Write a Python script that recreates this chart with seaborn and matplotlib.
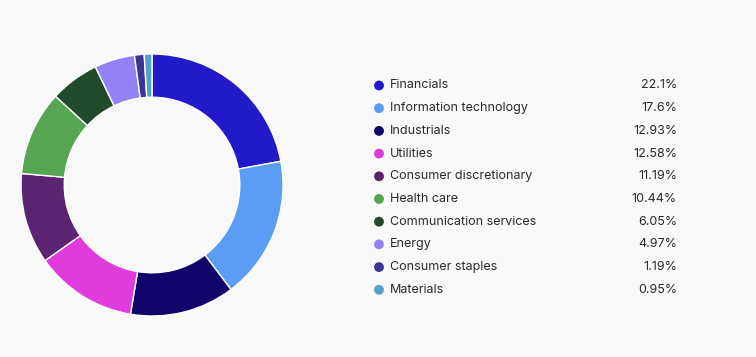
import pandas as pd
import matplotlib.pyplot as plt
import seaborn as sns

sectors = ['Financials', 'Information technology', 'Industrials', 'Utilities',
           'Consumer discretionary', 'Health care', 'Communication services',
           'Energy', 'Consumer staples', 'Materials']
weights = [22.1, 17.6, 12.93, 12.58, 11.19, 10.44, 6.05, 4.97, 1.19, 0.95]
labels = ['22.1%', '17.6%', '12.93%', '12.58%', '11.19%', '10.44%',
          '6.05%', '4.97%', '1.19%', '0.95%']
colors = ['#2219c9', '#5b9cf4', '#0f056b', '#e03bdc', '#5c2370',
          '#55a552', '#214c2c', '#9381f7', '#3b3597', '#56a0c3']

bg = '#f9f9fa'
sns.set_theme(style='white')
plt.rcParams['font.family'] = ['Inter', 'DejaVu Sans']

df = pd.DataFrame({'sector': sectors, 'weight': weights, 'label': labels})
df['row'] = range(len(df))

W, H = 756, 357
fig = plt.figure(figsize=(W / 100, H / 100), dpi=100, facecolor=bg)

# donut
cx, cy, r = 152, 185, 131
ax = fig.add_axes([(cx - r) / W, (H - cy - r) / H, 2 * r / W, 2 * r / H])
ax.set_facecolor(bg)
ax.pie(df['weight'], colors=colors, startangle=90, counterclock=False,
       radius=1, wedgeprops=dict(width=0.33, edgecolor='white', linewidth=1))
ax.set_xlim(-1, 1)
ax.set_ylim(-1, 1)
ax.set_aspect('equal')
ax.axis('off')

# legend
lax = fig.add_axes([0, 0, 1, 1])
lax.set_xlim(0, W)
lax.set_ylim(H, 0)
lax.axis('off')
row_y0, row_step = 85.5, 22.7
df['y'] = row_y0 + df['row'] * row_step
df['x'] = 379
sns.scatterplot(data=df, x='x', y='y', hue='sector', palette=colors,
                s=50, edgecolor='none', legend=False, ax=lax)
for _, rw in df.iterrows():
    lax.text(390, rw['y'], rw['sector'], va='center', ha='left',
             fontsize=9, color='#2a2a2a')
    lax.text(677, rw['y'], rw['label'], va='center', ha='right',
             fontsize=9, color='#2a2a2a')
lax.set_xlim(0, W)
lax.set_ylim(H, 0)

fig.savefig('out.png', dpi=100, facecolor=bg)
